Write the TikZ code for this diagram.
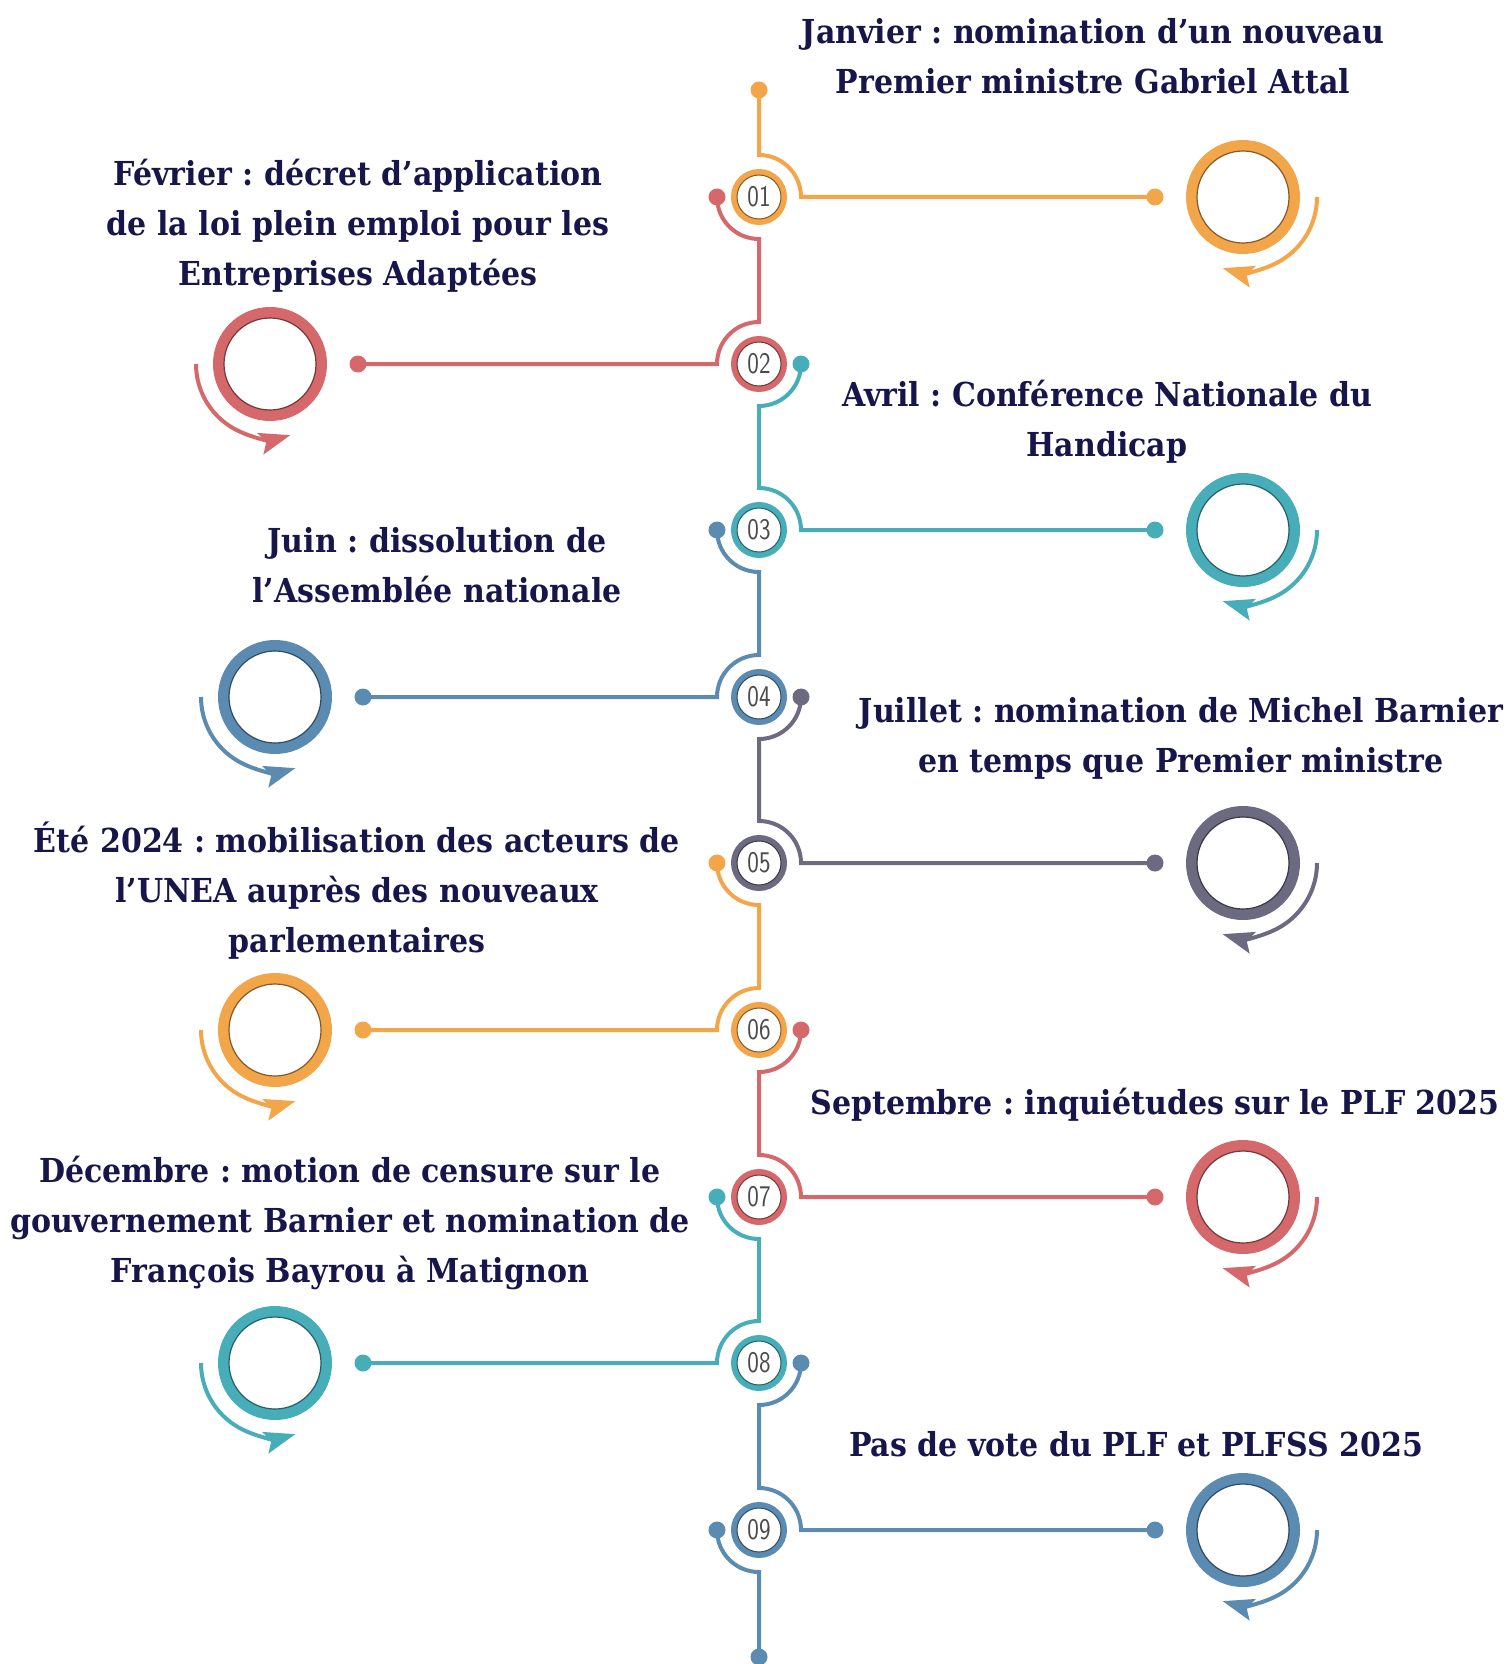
\documentclass[tikz,border=0pt]{standalone}
\usepackage{fontspec}
\setmainfont{DejaVu Serif}[FakeStretch=0.91]
\newfontfamily\numfont{Latin Modern Sans}[FakeStretch=0.82]
\usetikzlibrary{arrows.meta}
\frenchspacing

\definecolor{cOrange}{RGB}{243,165,74}
\definecolor{cRed}{RGB}{212,104,106}
\definecolor{cTeal}{RGB}{71,174,185}
\definecolor{cBlue}{RGB}{91,139,176}
\definecolor{cGray}{RGB}{108,106,128}
\definecolor{cNavy}{RGB}{22,22,74}
\definecolor{cNum}{RGB}{75,75,75}

\begin{document}
\begin{tikzpicture}[x=0.5pt,y=0.5pt,yscale=-1,xscale=1,
  track/.style={line width=2pt},
  dot/.style={circle,fill,inner sep=0pt,minimum size=8.5pt},
  numring/.style={circle,draw=#1,line width=3pt,fill=white,minimum size=25pt,inner sep=0pt,text=cNum,font=\numfont\fontsize{15}{15}\selectfont},
  iconring/.style={circle,draw=#1,line width=5.5pt,minimum size=51.5pt,inner sep=0pt},
  turn/.style={-{Stealth[length=15.5pt,width=11pt,inset=3pt]},line width=2pt},
  event/.style={align=center,text=cNavy,font=\bfseries\fontsize{16.5}{25}\selectfont,inner sep=0pt}
]
\useasboundingbox (0,0) rectangle (1509,1664);

% Dot Nodes
\node[dot,cOrange] (top) at (759,90) {};
\node[dot,cOrange] (e1) at (1155,197) {};
\node[dot,cRed] (s2) at (717,197) {};
\node[dot,cRed] (e2) at (358,364) {};
\node[dot,cTeal] (s3) at (801,364) {};
\node[dot,cTeal] (e3) at (1155,530) {};
\node[dot,cBlue] (s4) at (717,530) {};
\node[dot,cBlue] (e4) at (363,697) {};
\node[dot,cGray] (s5) at (801,697) {};
\node[dot,cGray] (e5) at (1155,863) {};
\node[dot,cOrange] (s6) at (717,863) {};
\node[dot,cOrange] (e6) at (363,1030) {};
\node[dot,cRed] (s7) at (801,1030) {};
\node[dot,cRed] (e7) at (1155,1197) {};
\node[dot,cTeal] (s8) at (717,1197) {};
\node[dot,cTeal] (e8) at (363,1363) {};
\node[dot,cBlue] (s9) at (801,1363) {};
\node[dot,cBlue] (e9) at (1155,1530) {};
\node[dot,cBlue] (s10) at (717,1530) {};
\node[dot,cBlue] (bottom) at (759,1657) {};

%Curve Lines
\draw[track,cOrange] (top.center) -- (759,155) arc (-90:0:42) -- (e1.center);
%Curve Lines
\draw[track,cRed] (s2.center) arc (180:90:42) -- (759,322) arc (270:180:42) -- (e2.center);
%Curve Lines
\draw[track,cTeal] (s3.center) arc (0:90:42) -- (759,488) arc (-90:0:42) -- (e3.center);
%Curve Lines
\draw[track,cBlue] (s4.center) arc (180:90:42) -- (759,655) arc (270:180:42) -- (e4.center);
%Curve Lines
\draw[track,cGray] (s5.center) arc (0:90:42) -- (759,821) arc (-90:0:42) -- (e5.center);
%Curve Lines
\draw[track,cOrange] (s6.center) arc (180:90:42) -- (759,988) arc (270:180:42) -- (e6.center);
%Curve Lines
\draw[track,cRed] (s7.center) arc (0:90:42) -- (759,1155) arc (-90:0:42) -- (e7.center);
%Curve Lines
\draw[track,cTeal] (s8.center) arc (180:90:42) -- (759,1321) arc (270:180:42) -- (e8.center);
%Curve Lines
\draw[track,cBlue] (s9.center) arc (0:90:42) -- (759,1488) arc (-90:0:42) -- (e9.center);
%Curve Lines
\draw[track,cBlue] (s10.center) arc (180:90:42) -- (bottom.center);

% Number Nodes
\node[numring=cOrange] (n1) at (759,197) {01};
\node[numring=cRed] (n2) at (759,364) {02};
\node[numring=cTeal] (n3) at (759,530) {03};
\node[numring=cBlue] (n4) at (759,697) {04};
\node[numring=cGray] (n5) at (759,863) {05};
\node[numring=cOrange] (n6) at (759,1030) {06};
\node[numring=cRed] (n7) at (759,1197) {07};
\node[numring=cTeal] (n8) at (759,1363) {08};
\node[numring=cBlue] (n9) at (759,1530) {09};
\draw[cOrange!55!black,line width=0.5pt] (n1.center) circle (22);
\draw[cRed!55!black,line width=0.5pt] (n2.center) circle (22);
\draw[cTeal!55!black,line width=0.5pt] (n3.center) circle (22);
\draw[cBlue!55!black,line width=0.5pt] (n4.center) circle (22);
\draw[cGray!55!black,line width=0.5pt] (n5.center) circle (22);
\draw[cOrange!55!black,line width=0.5pt] (n6.center) circle (22);
\draw[cRed!55!black,line width=0.5pt] (n7.center) circle (22);
\draw[cTeal!55!black,line width=0.5pt] (n8.center) circle (22);
\draw[cBlue!55!black,line width=0.5pt] (n9.center) circle (22);

% Icon Nodes
\node[iconring=cOrange] (ic1) at (1243,197) {};
\node[iconring=cRed] (ic2) at (270,364) {};
\node[iconring=cTeal] (ic3) at (1243,530) {};
\node[iconring=cBlue] (ic4) at (275,697) {};
\node[iconring=cGray] (ic5) at (1243,863) {};
\node[iconring=cOrange] (ic6) at (275,1030) {};
\node[iconring=cRed] (ic7) at (1243,1197) {};
\node[iconring=cTeal] (ic8) at (275,1363) {};
\node[iconring=cBlue] (ic9) at (1243,1530) {};
\draw[cOrange!55!black,line width=0.6pt] (ic1.center) circle (46);
\draw[cRed!55!black,line width=0.6pt] (ic2.center) circle (46);
\draw[cTeal!55!black,line width=0.6pt] (ic3.center) circle (46);
\draw[cBlue!55!black,line width=0.6pt] (ic4.center) circle (46);
\draw[cGray!55!black,line width=0.6pt] (ic5.center) circle (46);
\draw[cOrange!55!black,line width=0.6pt] (ic6.center) circle (46);
\draw[cRed!55!black,line width=0.6pt] (ic7.center) circle (46);
\draw[cTeal!55!black,line width=0.6pt] (ic8.center) circle (46);
\draw[cBlue!55!black,line width=0.6pt] (ic9.center) circle (46);

%Curve Arrows
\draw[turn,cOrange] (1317,197) arc (0:106:74);
\draw[turn,cRed] (196,364) arc (180:74:74);
\draw[turn,cTeal] (1317,530) arc (0:106:74);
\draw[turn,cBlue] (201,697) arc (180:74:74);
\draw[turn,cGray] (1317,863) arc (0:106:74);
\draw[turn,cOrange] (201,1030) arc (180:74:74);
\draw[turn,cRed] (1317,1197) arc (0:106:74);
\draw[turn,cTeal] (201,1363) arc (180:74:74);
\draw[turn,cBlue] (1317,1530) arc (0:106:74);

% Text Node
\node[event] (t1) at (1093,56) {Janvier : nomination d’un nouveau\\Premier ministre Gabriel Attal};
% Text Node
\node[event] (t2) at (358,226) {Février : décret d’application\\de la loi plein emploi pour les\\Entreprises Adaptées};
% Text Node
\node[event] (t3) at (1107,422) {Avril : Conférence Nationale du\\Handicap};
% Text Node
\node[event] (t4) at (437,565) {Juin : dissolution de\\l’Assemblée nationale};
% Text Node
\node[event] (t5) at (1181,738) {Juillet : nomination de Michel Barnier\\en temps que Premier ministre};
% Text Node
\node[event] (t6) at (357,891) {Été 2024 : mobilisation des acteurs de\\l’UNEA auprès des nouveaux\\parlementaires};
% Text Node
\node[event] (t7) at (1155,1105) {Septembre : inquiétudes sur le PLF 2025};
% Text Node
\node[event] (t8) at (350,1223) {Décembre : motion de censure sur le\\gouvernement Barnier et nomination de\\François Bayrou à Matignon};
% Text Node
\node[event] (t9) at (1136,1444) {Pas de vote du PLF et PLFSS 2025};

\end{tikzpicture}
\end{document}
